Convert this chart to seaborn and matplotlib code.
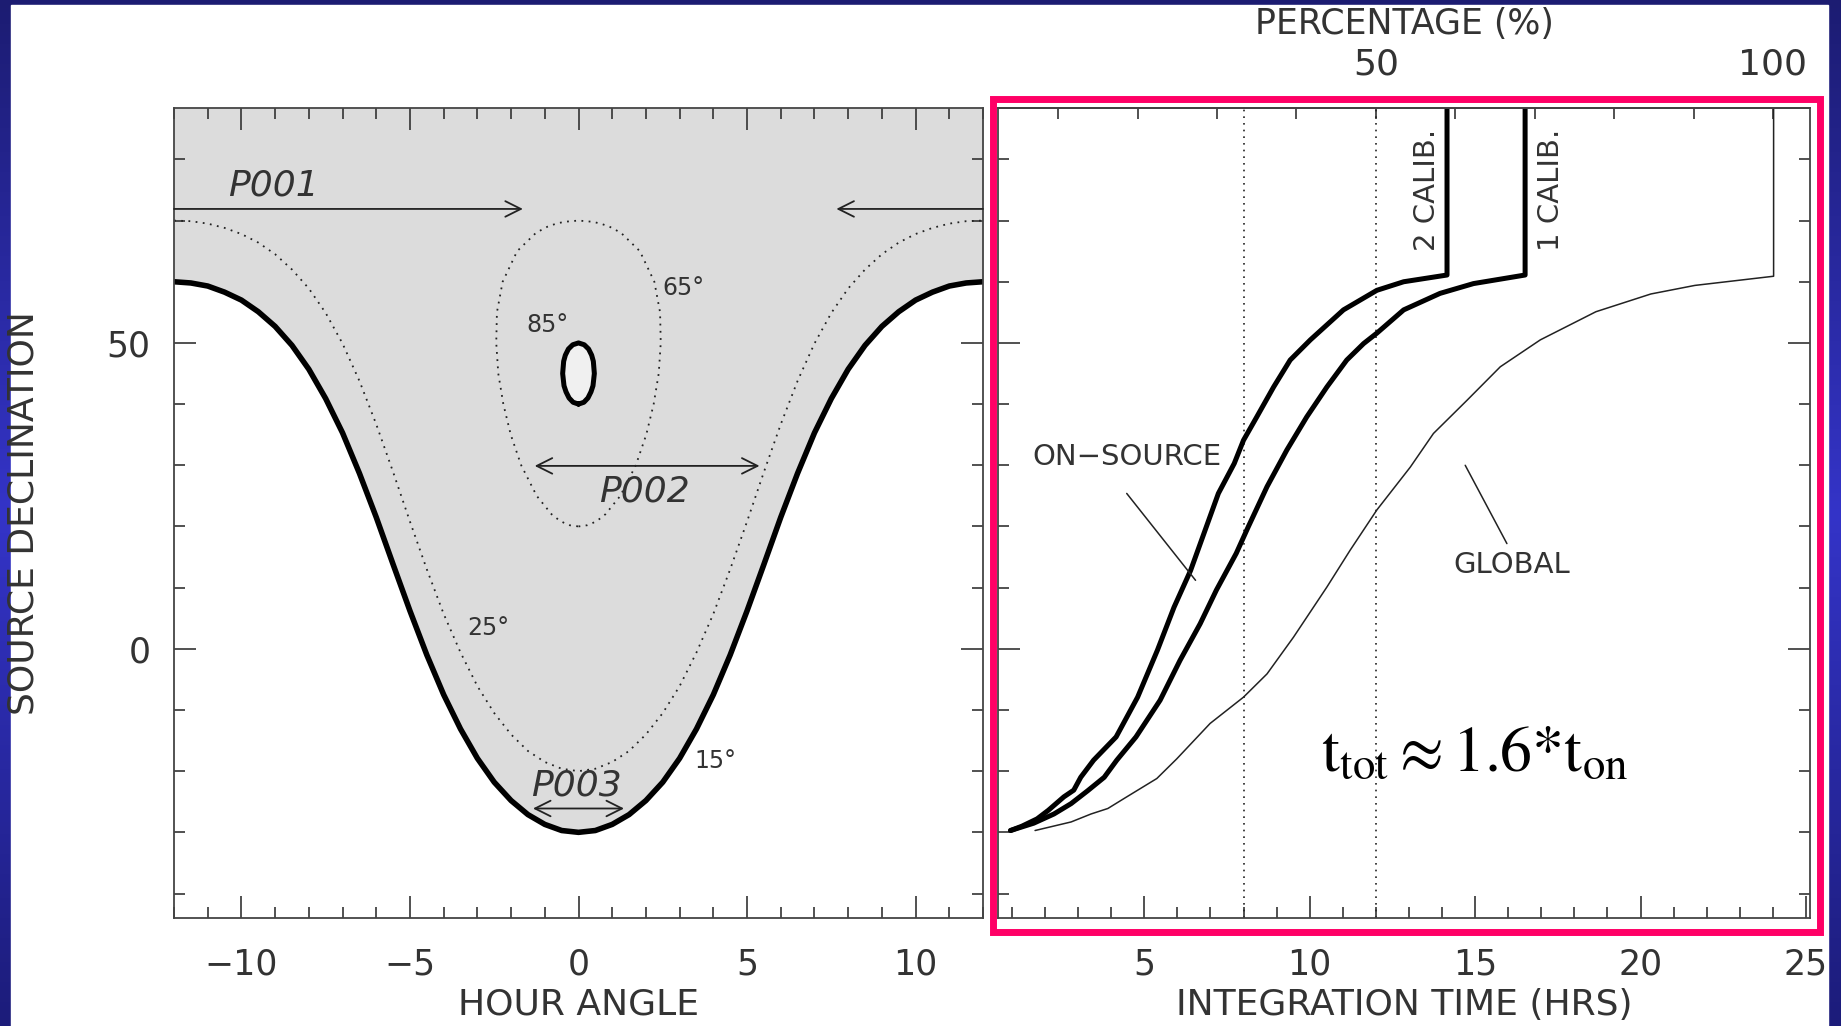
import matplotlib
matplotlib.use("Agg")
import numpy as np
import seaborn as sns
import matplotlib.pyplot as plt
from matplotlib.patches import Rectangle
from matplotlib.colors import LinearSegmentedColormap
from matplotlib.ticker import MultipleLocator, FixedLocator

# ---- left panel: elevation limits vs hour angle (symmetric about HA = 0) ----
ha_half = [0, 0.5, 1, 1.5, 2, 2.5, 3, 3.5, 4, 4.5, 5, 5.5, 6,
           6.5, 7, 7.5, 8, 8.5, 9, 9.5, 10, 10.5, 11, 11.5, 12]
dec_el15 = [-30.0, -29.7, -28.7, -27.1, -24.8, -21.8, -17.9, -13.1, -7.5, -1.0,
            6.2, 13.8, 21.5, 28.7, 35.3, 40.9, 45.7, 49.6, 52.7, 55.1,
            57.0, 58.3, 59.3, 59.8, 60.0]
dec_el25 = [-20.0, -19.6, -18.5, -16.7, -14.0, -10.5, -6.1, -0.6, 5.7, 13.0,
            20.8, 28.9, 36.7, 43.8, 49.9, 54.9, 58.9, 62.0, 64.5, 66.4,
            67.8, 68.8, 69.5, 69.9, 70.0]
el65_dec = [20, 20.2, 20.5, 21, 22, 25, 30, 35, 40, 45, 50, 55, 60, 65, 68, 69, 69.5, 69.8, 70]
el65_ha = [0, 0.26, 0.40, 0.57, 0.80, 1.24, 1.70, 2.01, 2.23, 2.38, 2.44, 2.42, 2.25,
           1.82, 1.26, 0.92, 0.66, 0.42, 0]
el85_dec = [40, 40.3, 41, 42, 43, 45, 47, 48, 49, 49.7, 50]
el85_ha = [0, 0.16, 0.28, 0.37, 0.43, 0.47, 0.44, 0.39, 0.30, 0.17, 0]

# ---- right panel: integration time vs declination ----
DEC_TOP = 88.4
t_2cal = [0.96, 1.30, 1.76, 2.10, 2.57, 2.87, 3.08, 3.47, 4.15, 4.80, 5.40, 5.90, 6.40,
          6.80, 7.24, 7.72, 8.00, 8.40, 8.91, 9.41, 10.02, 11.02, 12.03, 12.84, 14.15, 14.15]
dec_2cal = [-29.7, -29.0, -27.8, -26.4, -24.2, -23.1, -21.0, -18.2, -14.4, -7.9, -0.2, 6.8, 12.8,
            18.8, 25.4, 30.3, 34.1, 37.9, 42.8, 47.2, 50.5, 55.4, 58.6, 60.0, 61.1, DEC_TOP]
t_1cal = [0.96, 1.66, 2.27, 2.79, 3.29, 3.79, 4.17, 4.75, 5.48, 6.08, 6.69, 7.18, 7.78,
          8.14, 8.71, 9.31, 9.91, 10.52, 11.12, 11.63, 12.03, 12.84, 13.94, 14.95, 16.51, 16.51]
dec_1cal = [-29.7, -28.5, -27.0, -25.3, -23.2, -21.0, -18.2, -14.4, -8.4, -1.9, 4.1, 9.6, 15.6,
            19.9, 26.5, 32.5, 37.9, 42.8, 47.2, 49.9, 51.6, 55.4, 58.1, 59.7, 61.1, DEC_TOP]
t_glob = [1.70, 2.79, 3.39, 3.90, 4.38, 5.38, 5.98, 6.99, 8.00, 8.71, 9.51, 10.52, 11.22,
          12.03, 13.04, 13.74, 14.75, 15.76, 16.97, 18.65, 20.31, 21.64, 24.02, 24.02]
dec_glob = [-29.7, -28.3, -27.0, -26.1, -24.5, -21.2, -18.0, -12.2, -7.9, -4.1, 1.9, 10.1, 16.1,
            22.7, 29.7, 35.2, 40.6, 46.1, 50.5, 55.1, 58.0, 59.4, 60.9, DEC_TOP]
t_marks = [8, 12]

ha_full = [-h for h in ha_half[::-1]] + ha_half[1:]
dec15_full = dec_el15[::-1] + dec_el15[1:]
dec25_full = dec_el25[::-1] + dec_el25[1:]
ha65 = el65_ha + [-h for h in el65_ha[::-1]]
dec65 = el65_dec + el65_dec[::-1]
ha85 = el85_ha + [-h for h in el85_ha[::-1]]
dec85 = el85_dec + el85_dec[::-1]

sns.set_theme(style="ticks")
plt.rcParams['font.family'] = ['DejaVu Sans']
plt.rcParams['mathtext.fontset'] = 'stix'
TXT = '#333333'

W, H = 1841, 1026
fig = plt.figure(figsize=(W / 100, H / 100), dpi=100)

# slide background
bg = fig.add_axes([0, 0, 1, 1], zorder=-5)
bg.axis('off')
cmap = LinearSegmentedColormap.from_list('slide', ['#1c1c72', '#3434c8', '#1c1c7a'])
bg.imshow(np.linspace(0, 1, 256)[:, None], aspect='auto', cmap=cmap, extent=[0, 1, 0, 1])
bg.add_patch(Rectangle((11 / W, 0), (1828 - 11) / W, (H - 5) / H, color='white',
                       transform=bg.transAxes))
bg.set_xlim(0, 1)
bg.set_ylim(0, 1)

ax1 = fig.add_axes([174 / W, (H - 918) / H, 809 / W, 810 / H])
ax2 = fig.add_axes([998 / W, (H - 918) / H, 812 / W, 810 / H])

# ---------- left panel ----------
ax1.fill_between(ha_full, dec15_full, DEC_TOP, color='#dcdcdc', lw=0, zorder=0)
sns.lineplot(x=ha_full, y=dec15_full, ax=ax1, color='black', lw=4, sort=False, estimator=None)
sns.lineplot(x=ha_full, y=dec25_full, ax=ax1, color='#222222', lw=1.3, sort=False,
             estimator=None, linestyle=(0, (1, 3)))
sns.lineplot(x=ha65, y=dec65, ax=ax1, color='#222222', lw=1.3, sort=False,
             estimator=None, linestyle=(0, (1, 3)))
ax1.fill(ha85, dec85, color='#f0f0f0', lw=0, zorder=2)
sns.lineplot(x=ha85, y=dec85, ax=ax1, color='black', lw=3.6, sort=False, estimator=None)

arrow = dict(arrowstyle='->', lw=1.3, color='#222222', mutation_scale=28, shrinkA=0, shrinkB=0)
arrow2 = dict(arrow, arrowstyle='<->')
ax1.annotate('', xy=(-1.65, 71.9), xytext=(-12, 71.9), arrowprops=arrow)
ax1.annotate('', xy=(7.65, 71.9), xytext=(12, 71.9), arrowprops=arrow)
ax1.annotate('', xy=(-1.3, 29.9), xytext=(5.37, 29.9), arrowprops=arrow2)
ax1.annotate('', xy=(-1.35, -26.1), xytext=(1.35, -26.1), arrowprops=arrow2)

pfont = dict(fontsize=26, fontstyle='italic', color=TXT, va='baseline')
ax1.text(-10.4, 74.1, 'P001', **pfont)
ax1.text(0.6, 24.1, 'P002', **pfont)
ax1.text(-1.4, -23.9, 'P003', **pfont)
dfont = dict(fontsize=17, color=TXT, va='baseline')
ax1.text(2.5, 57.8, '65°', **dfont)
ax1.text(-1.55, 51.8, '85°', **dfont)
ax1.text(-3.3, 2.3, '25°', **dfont)
ax1.text(3.45, -19.5, '15°', **dfont)

ax1.set_xlim(-12, 12)
ax1.xaxis.set_major_locator(MultipleLocator(5))
ax1.xaxis.set_minor_locator(MultipleLocator(1))
ax1.set_xlabel('HOUR ANGLE', fontsize=26, color=TXT)
ax1.xaxis.set_label_coords(0.5, -0.0864)
ax1.set_ylabel('SOURCE DECLINATION', fontsize=26, color=TXT)
ax1.yaxis.set_label_coords(-0.1656, 0.5)

# ---------- right panel ----------
for tm in t_marks:
    ax2.axvline(tm, color='#222222', lw=1.2, linestyle=(0, (1, 3)), zorder=1)
sns.lineplot(x=t_2cal, y=dec_2cal, ax=ax2, color='black', lw=3.6, sort=False, estimator=None)
sns.lineplot(x=t_1cal, y=dec_1cal, ax=ax2, color='black', lw=3.6, sort=False, estimator=None)
sns.lineplot(x=t_glob, y=dec_glob, ax=ax2, color='#222222', lw=1.1, sort=False, estimator=None)

lfont = dict(fontsize=21, color=TXT)
ax2.text(13.55, 75, '2 CALIB.', rotation=90, ha='center', va='center', **lfont)
ax2.text(17.3, 75, '1 CALIB.', rotation=90, ha='center', va='center', **lfont)
ax2.text(4.47, 31.4, 'ON\u2212SOURCE', ha='center', va='center', **lfont)
ax2.text(16.1, 13.7, 'GLOBAL', ha='center', va='center', **lfont)
ax2.plot([4.47, 6.55], [25.4, 11.2], color='#222222', lw=1.1)
ax2.plot([14.70, 15.96], [30.0, 17.2], color='#222222', lw=1.1)
ax2.text(10.33, -20.1, r'$\mathrm{t_{tot}} \approx 1.6{*}\mathrm{t_{on}}$',
         fontsize=46, color='black', va='baseline')

ax2.set_xlim(0.58, 25.12)
ax2.xaxis.set_major_locator(MultipleLocator(5))
ax2.xaxis.set_minor_locator(MultipleLocator(1))
ax2.set_xlabel('INTEGRATION TIME (HRS)', fontsize=26, color=TXT)
ax2.xaxis.set_label_coords(0.5, -0.0864)
ax2.set_ylabel('')

sec = ax2.secondary_xaxis('top', functions=(lambda t: t * 100 / 24, lambda p: p * 24 / 100))
pct = list(range(10, 101, 10))
sec.set_xticks(pct)
sec.set_xticklabels(['50' if p == 50 else '100' if p == 100 else '' for p in pct])
sec.tick_params(direction='in', length=8, width=1.2, pad=19, labelsize=26,
                color='#333333', labelcolor=TXT)
ax2.text(0.5, 1.091, 'PERCENTAGE (%)', transform=ax2.transAxes, ha='center',
         va='baseline', fontsize=25, color=TXT)

for ax in (ax1, ax2):
    ax.set_ylim(-44, DEC_TOP)
    ax.yaxis.set_major_locator(FixedLocator([0, 50]))
    ax.yaxis.set_minor_locator(MultipleLocator(10))
    ax.set_facecolor('white')
    for sp in ax.spines.values():
        sp.set_color('#444444')
        sp.set_linewidth(1.3)
    ax.tick_params(which='both', direction='in', right=True, color='#333333', width=1.2,
                   labelcolor=TXT)
    ax.tick_params(which='major', length=16)
    ax.tick_params(which='minor', length=8)
    ax.tick_params(axis='x', labelsize=25, pad=21)
    ax.tick_params(axis='y', labelsize=25, pad=17)
ax1.tick_params(which='both', top=True)
ax2.tick_params(which='both', top=False, labelleft=False)

# pink highlight frame
fig.add_artist(Rectangle((993 / W, (H - 931.5) / H), (1820 - 993) / W, (931.5 - 99) / H,
                         transform=fig.transFigure, fill=False, ec='#ff0066', lw=5))

fig.savefig('out.png', dpi=100)
